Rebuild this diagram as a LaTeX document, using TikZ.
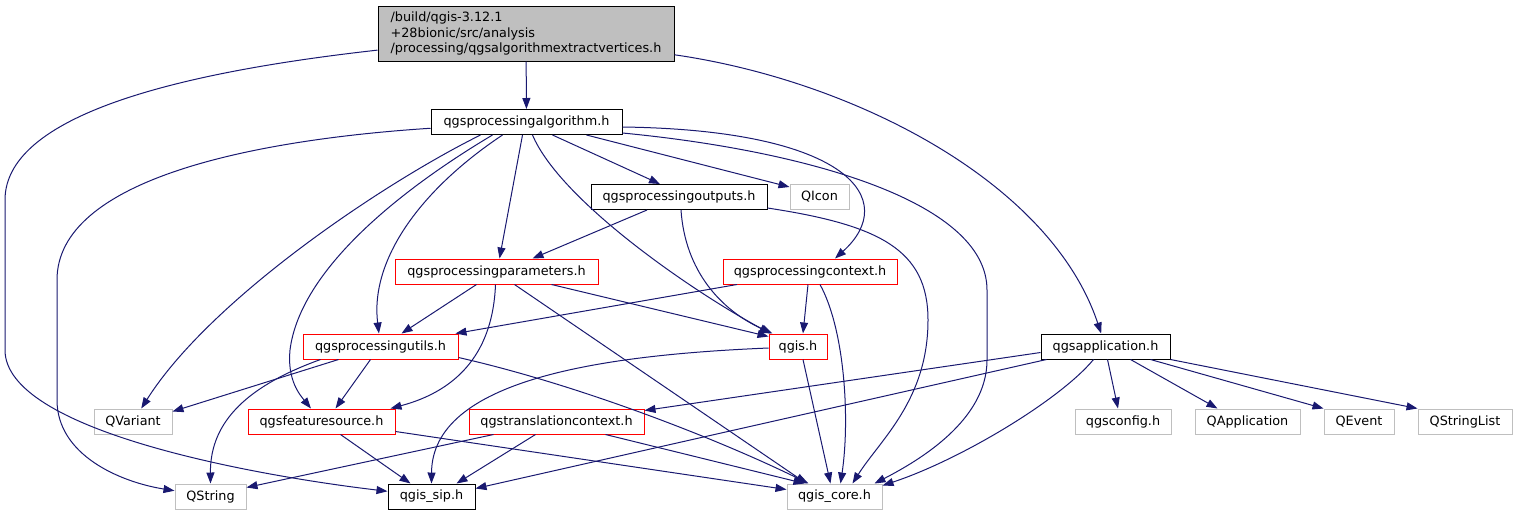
\documentclass[tikz,border=0pt]{standalone}
\usepackage{fontspec}
\setmainfont{DejaVu Sans}
\usetikzlibrary{arrows.meta}
\definecolor{edgeblue}{HTML}{191970}
\definecolor{greyfill}{HTML}{BFBFBF}
\definecolor{greyline}{HTML}{BFBFBF}

\begin{document}
\begin{tikzpicture}[x=1pt,y=-1pt,
    file/.style={rectangle, draw, line width=1pt, minimum height=25pt, inner sep=0pt,
      font=\fontsize{12.8}{15.5}\selectfont},
    known/.style={file, draw=black},
    partial/.style={file, draw=red},
    extern/.style={file, draw=greyline},
    dep/.style={draw=edgeblue, line width=1pt, -{Triangle[length=11pt,width=8pt]}}]
  \useasboundingbox (0,0) rectangle (1517,515);

  \node [known, fill=greyfill, minimum width=296pt, minimum height=55pt, align=left] (extract) at (526,33.5)
    {/build/qgis-3.12.1\\+28bionic/src/analysis\\/processing/qgsalgorithmextractvertices.h};
  \node [known, minimum width=191pt] (alg) at (526.5,122) {qgsprocessingalgorithm.h};
  \node [known, minimum width=176pt] (outputs) at (679,197) {qgsprocessingoutputs.h};
  \node [extern, minimum width=59pt] (qicon) at (819.5,197) {QIcon};
  \node [partial, minimum width=203pt] (params) at (496.5,271.5) {qgsprocessingparameters.h};
  \node [partial, minimum width=174pt] (context) at (810,271.5) {qgsprocessingcontext.h};
  \node [partial, minimum width=155pt] (utils) at (380.5,346.5) {qgsprocessingutils.h};
  \node [partial, minimum width=58pt] (qgis) at (798,346.5) {qgis.h};
  \node [known, minimum width=129pt] (app) at (1105.5,346.5) {qgsapplication.h};
  \node [extern, minimum width=78pt] (qvariant) at (133,421.5) {QVariant};
  \node [partial, minimum width=147pt] (featsrc) at (321.5,421.5) {qgsfeaturesource.h};
  \node [partial, minimum width=175pt] (transctx) at (556.5,421.5) {qgstranslationcontext.h};
  \node [extern, minimum width=96pt] (config) at (1123,421.5) {qgsconfig.h};
  \node [extern, minimum width=105pt] (qapp) at (1247.5,421.5) {QApplication};
  \node [extern, minimum width=70pt] (qevent) at (1359,421.5) {QEvent};
  \node [extern, minimum width=94pt] (qstrlist) at (1465,421.5) {QStringList};
  \node [extern, minimum width=71pt] (qstring) at (210.5,496.5) {QString};
  \node [known, minimum width=87pt] (sip) at (431.5,496.5) {qgis\_sip.h};
  \node [extern, minimum width=95pt] (core) at (834.5,496.5) {qgis\_core.h};

  % includes of the file itself
  \draw[dep] (extract) -- (alg);
  \draw[dep] (extract) .. controls (200,70) and (5,110) .. (5,200) -- (5,350)
    .. controls (5,430) and (250,475) .. (sip);
  \draw[dep] (extract) .. controls (850,80) and (1050,180) .. (app);

  % qgsprocessingalgorithm.h
  \draw[dep] (alg) .. controls (250,140) and (57,180) .. (57,280) -- (57,400)
    .. controls (57,455) and (120,482) .. (qstring);
  \draw[dep] ([xshift=-46pt]alg.south) .. controls (380,185) and (210,300) .. (qvariant);
  \draw[dep] ([xshift=-34pt]alg.south) .. controls (400,190) and (300,270) .. (290,350)
    .. controls (287,380) and (300,395) .. (featsrc);
  \draw[dep] ([xshift=-24pt]alg.south) .. controls (420,190) and (370,260) .. (utils);
  \draw[dep] ([xshift=-4pt]alg.south) -- ([xshift=3pt]params.north);
  \draw[dep] ([xshift=6pt]alg.south) .. controls (560,200) and (690,290) .. ([xshift=2pt]qgis.north west);
  \draw[dep] ([xshift=26pt]alg.south) -- ([xshift=-19pt]outputs.north);
  \draw[dep] ([xshift=60pt]alg.south) -- ([yshift=-3pt]qicon.north west);
  \draw[dep] ([yshift=-5pt]alg.east) .. controls (850,130) and (900,200) .. ([xshift=25pt]context.north);
  \draw[dep] ([yshift=-11pt]alg.east) .. controls (800,150) and (987,200) .. (987,290) -- (987,360)
    .. controls (987,420) and (920,460) .. ([xshift=-8pt]core.north east);

  % qgsprocessingoutputs.h
  \draw[dep] ([xshift=-32pt]outputs.south) -- ([xshift=36pt]params.north);
  \draw[dep] ([xshift=2pt]outputs.south) .. controls (685,270) and (720,310) .. ([xshift=4pt]qgis.north west);
  \draw[dep] ([yshift=2pt]outputs.south east) .. controls (880,225) and (928,250) .. (928,320)
    .. controls (928,400) and (880,440) .. ([xshift=18pt]core.north);

  % qgsprocessingparameters.h
  \draw[dep] ([xshift=-20pt]params.south) -- ([xshift=21pt]utils.north);
  \draw[dep] ([xshift=-1pt]params.south) .. controls (493,350) and (460,390) .. ([xshift=-5pt]featsrc.north east);
  \draw[dep] ([xshift=55pt]params.south) -- ([yshift=-3pt]qgis.north west);
  \draw[dep] ([xshift=18pt]params.south) -- ([xshift=-28pt]core.north);

  % qgsprocessingcontext.h
  \draw[dep] ([xshift=-73pt]context.south) -- ([xshift=-3pt]utils.north east);
  \draw[dep] ([xshift=-2pt]context.south) -- ([xshift=5pt]qgis.north);
  \draw[dep] ([xshift=10pt]context.south) .. controls (845,330) and (850,420) .. ([xshift=6pt]core.north);

  % qgsprocessingutils.h
  \draw[dep] ([xshift=-42pt]utils.south) -- ([yshift=-3pt]qvariant.north east);
  \draw[dep] ([xshift=-60pt]utils.south) .. controls (250,385) and (210,420) .. (qstring.north);
  \draw[dep] ([xshift=-10pt]utils.south) -- ([xshift=14pt]featsrc.north);
  \draw[dep] ([yshift=2pt]utils.south east) .. controls (580,385) and (720,440) .. ([xshift=-26pt]core.north);

  % qgis.h
  \draw[dep] ([yshift=-1.5pt]qgis.west) .. controls (600,355) and (432,380) .. (sip.north);
  \draw[dep] ([xshift=5pt]qgis.south) -- ([xshift=-4pt]core.north);

  % qgsfeaturesource.h
  \draw[dep] ([xshift=19pt]featsrc.south) -- ([xshift=-21pt]sip.north);
  \draw[dep] ([yshift=3pt]featsrc.south east) -- ([yshift=-6pt]core.north west);

  % qgstranslationcontext.h
  \draw[dep] ([xshift=-63pt]transctx.south) -- ([yshift=-4pt]qstring.north east);
  \draw[dep] ([xshift=-21pt]transctx.south) -- ([xshift=25pt]sip.north);
  \draw[dep] ([xshift=49pt]transctx.south) -- ([xshift=-30pt]core.north);

  % qgsapplication.h
  \draw[dep] ([yshift=-6pt]app.west) -- ([yshift=-2pt]transctx.north east);
  \draw[dep] ([xshift=6pt]app.south west) -- ([yshift=-5pt]sip.north east);
  \draw[dep] ([xshift=-12pt]app.south) .. controls (1060,400) and (960,460) .. ([yshift=-2pt]core.north east);
  \draw[dep] ([xshift=2pt]app.south) -- ([xshift=-5pt]config.north);
  \draw[dep] ([xshift=25pt]app.south) -- ([xshift=-30pt]qapp.north);
  \draw[dep] ([xshift=45pt]app.south) -- (qevent.north west);
  \draw[dep] (app.south east) -- (qstrlist.north west);
\end{tikzpicture}
\end{document}
